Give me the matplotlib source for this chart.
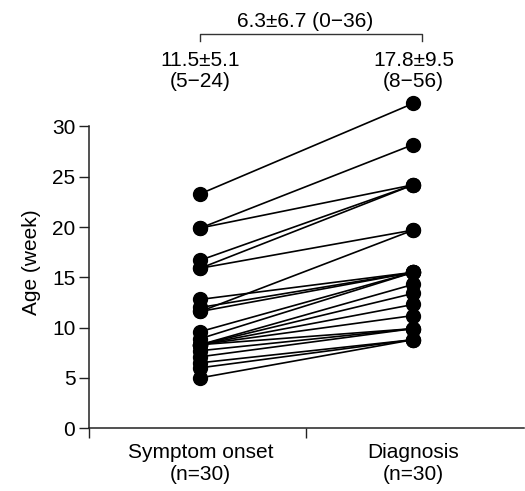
import matplotlib
matplotlib.use("Agg")
import matplotlib.pyplot as plt
import matplotlib.transforms as mtransforms

plt.rcParams['font.family'] = ['Liberation Sans', 'DejaVu Sans']

# ------------------------------------------
# data: paired ages (week) per patient
# ------------------------------------------
groups = ["Symptom onset\n(n=30)", "Diagnosis\n(n=30)"]
onset = [23.3, 19.9, 19.9, 16.7, 15.9, 15.9, 12.8, 12.0, 11.6, 11.6, 9.6,
         8.9, 8.3, 8.3, 8.3, 8.3, 8.3, 7.7, 7.1, 6.5, 6.0, 5.0]
diagnosis = [32.3, 28.2, 24.2, 24.2, 24.2, 19.7, 15.5, 15.5, 19.7, 15.5, 15.5,
             15.5, 14.3, 13.4, 12.3, 11.2, 9.9, 9.9, 9.9, 8.8, 8.8, 8.8]
group_stats = ["11.5\u00b15.1\n(5\u221224)", "17.8\u00b19.5\n(8\u221256)"]
diff_stat = "6.3\u00b16.7 (0\u221236)"

fig = plt.figure(figsize=(5.25, 4.91), dpi=100)
ax = fig.add_axes([0.170, 0.128, 0.829, 0.678])

for a, b in zip(onset, diagnosis):
    ax.plot([0, 1], [a, b], color='black', lw=1.2, marker='o', ms=10,
            mfc='black', mec='black', clip_on=False, zorder=3)

ax.set_xlim(-0.521, 1.521)
ax.set_ylim(0, 33.1)
ax.set_yticks([0, 5, 10, 15, 20, 25, 30])
ax.spines['left'].set_bounds(0, 30)
ax.set_xticks([-0.521, 0.498])
ax.set_xticklabels(["", ""])
for s in ['top', 'right']:
    ax.spines[s].set_visible(False)
for s in ['left', 'bottom']:
    ax.spines[s].set_color('#222222')
    ax.spines[s].set_linewidth(1.1)
ax.tick_params(axis='both', direction='out', length=7, width=1.0,
               color='#222222', labelsize=15, pad=3)
ax.set_ylabel("Age (week)", fontsize=15, labelpad=8)

# group labels under the axis
trans = mtransforms.blended_transform_factory(ax.transData, fig.transFigure)
for i, g in enumerate(groups):
    ax.text(i, 0.056, g, transform=trans, ha='center', va='center',
            fontsize=15, linespacing=1.15)

# stats above each group
for i, st in enumerate(group_stats):
    ax.text(i, 0.855, st, transform=trans, ha='center', va='center',
            fontsize=15, linespacing=1.1)

# bracket with difference
ax.plot([0, 0, 1.04, 1.04], [0.917, 0.931, 0.931, 0.917], transform=trans,
        color='#333333', lw=1.0, clip_on=False)
ax.text(0.49, 0.957, diff_stat, transform=trans, ha='center', va='center',
        fontsize=15)

plt.savefig("out.png", dpi=100)
